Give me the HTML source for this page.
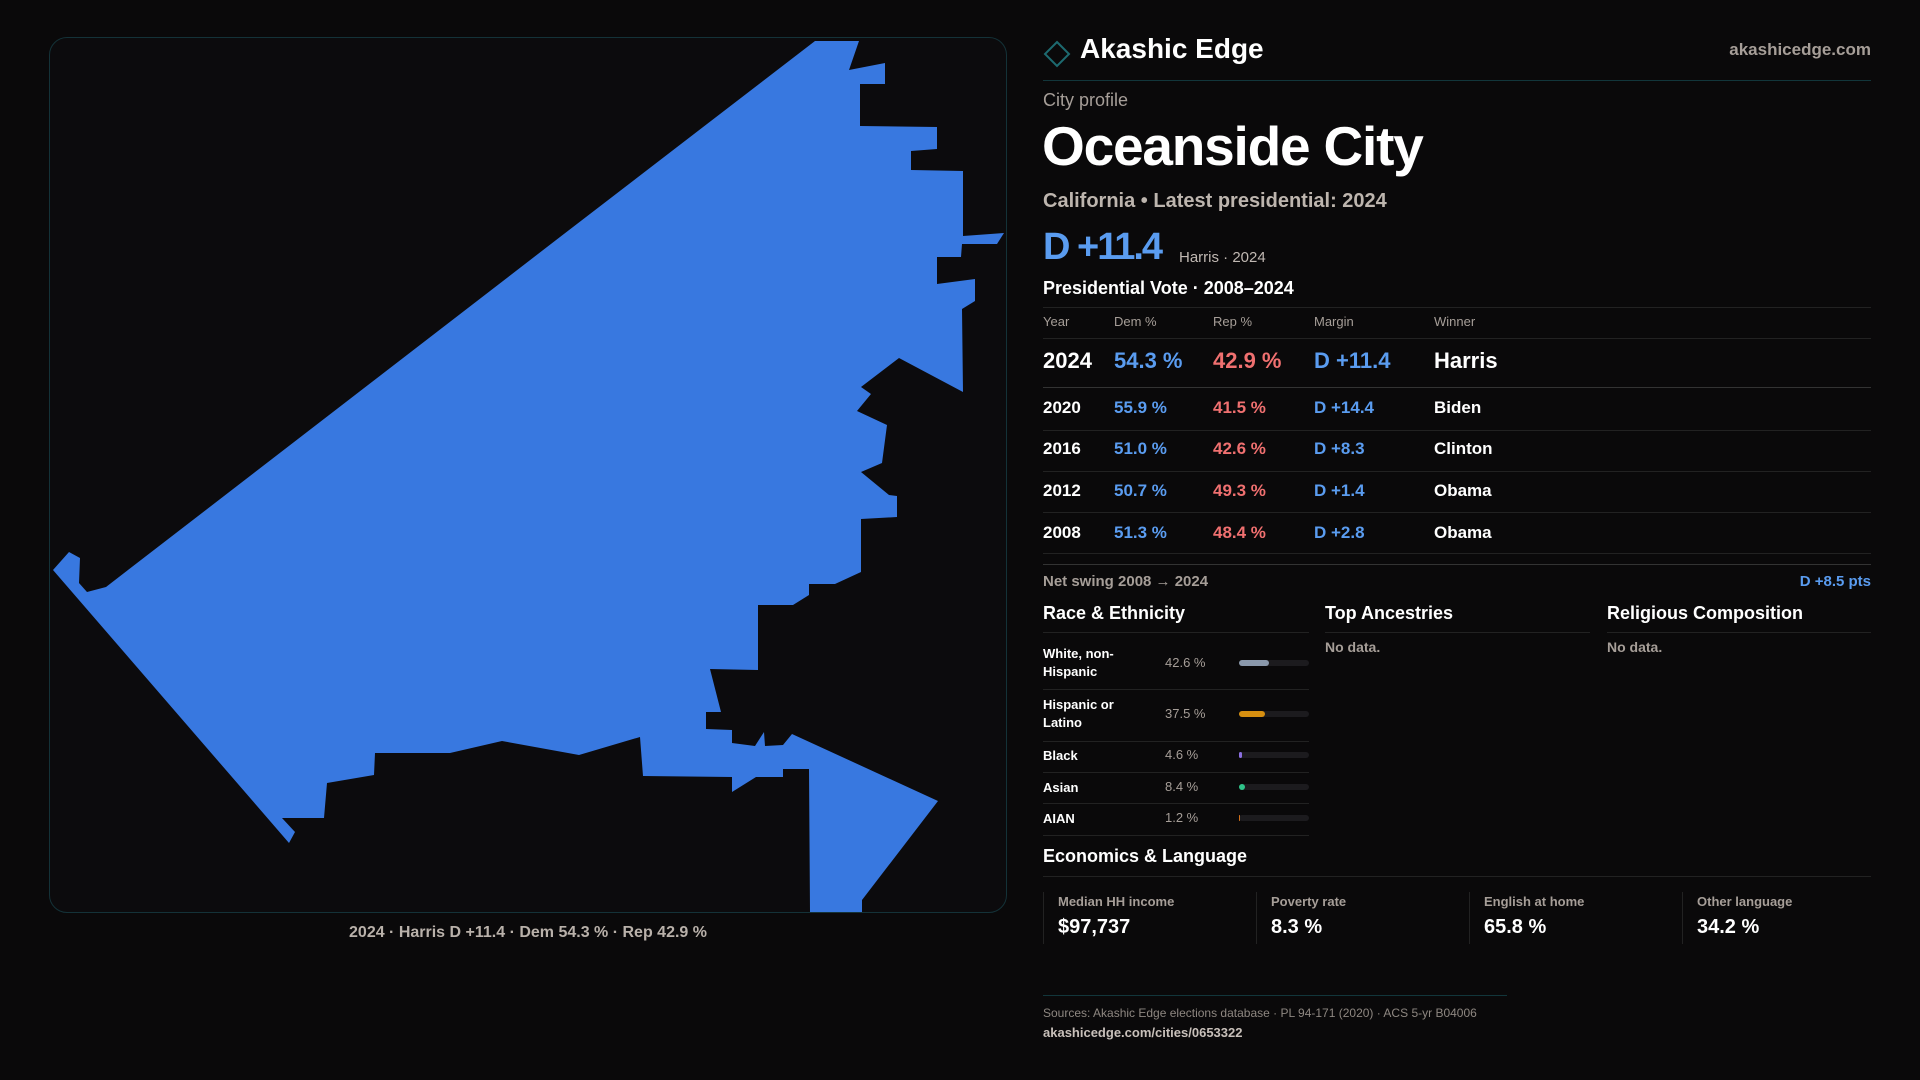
<!DOCTYPE html>
<html><head><meta charset="utf-8">
<style>
*{margin:0;padding:0;box-sizing:border-box}
body{width:1920px;height:1080px;background:#0a090a;font-family:"Liberation Sans",sans-serif;color:#fff;position:relative;overflow:hidden}
.a{position:absolute;white-space:nowrap}
.g{color:#a69e98}
.hl{position:absolute;height:1px;background:#222}
.bl{color:#5a9cf0}.rd{color:#f07070}
</style></head><body>
<div class="a" style="left:49px;top:37px;width:958px;height:876px;border:1px solid #143238;border-radius:18px;background:#0c0b0d"></div>
<svg class="a" style="left:0;top:0" width="1920" height="1080">
<polygon fill="#3878e0" points="815,41 859,41 849,70 885,63 885,84 860,84 860,126 937,127 937,149 911,151 911,170 963,171 963,236 1004,233 997,244 962,244 961,257 937,257 937,284 975,279 975,301 962,309 963,392 899,358 861,387 871,394 857,411 887,425 882,463 861,472 889,495 897,496 897,517 861,519 861,572 835,584 809,584 809,595 793,605 758,605 758,670 710,669 721,712 706,712 706,729 732,730 732,743 755,746 764,732 765,746 783,745 792,734 938,801 862,900 862,912 810,912 809,769 783,769 783,777 756,777 732,792 732,777 643,776 640,737 579,755 502,741 450,753 375,753 374,775 327,783 324,818 282,818 295,832 289,843 53,570 69,552 80,558 79,583 87,592 106,587 560,237"/>
</svg>
<div class="a" style="left:49px;width:958px;top:924px;text-align:center;font-size:16px;font-weight:bold;color:#b9b1aa">2024 · Harris D +11.4 · Dem 54.3 % · Rep 42.9 %</div>

<svg class="a" style="left:1043px;top:40px" width="28" height="28"><polygon points="14,2 26,14 14,26 2,14" fill="none" stroke="#1d6a70" stroke-width="2"/></svg>
<div class="a" style="left:1080px;top:33px;font-size:28px;font-weight:bold">Akashic Edge</div>
<div class="a g" style="right:49px;top:40px;font-size:17px;font-weight:bold">akashicedge.com</div>
<div class="hl" style="left:1043px;width:828px;top:80px;background:#12363b"></div>
<div class="a g" style="left:1043px;top:90px;font-size:18px">City profile</div>
<div class="a" style="left:1042px;top:114px;font-size:55px;font-weight:bold;letter-spacing:-1.2px">Oceanside City</div>
<div class="a" style="left:1043px;top:190px;font-size:20px;font-weight:bold;color:#bdb5ae">California • Latest presidential: 2024</div>
<div class="a bl" style="left:1043px;top:226px;font-size:38px;font-weight:bold;letter-spacing:-2px">D +11.4</div>
<div class="a" style="left:1179px;top:249px;font-size:15px;color:#c0b8b2">Harris · 2024</div>
<div class="a" style="left:1043px;top:278px;font-size:18px;font-weight:bold">Presidential Vote · 2008–2024</div>
<div class="hl" style="left:1043px;width:828px;top:307px"></div>
<div class="g" style="font-size:13px">
<div class="a" style="left:1043px;top:314px">Year</div><div class="a" style="left:1114px;top:314px">Dem %</div><div class="a" style="left:1213px;top:314px">Rep %</div><div class="a" style="left:1314px;top:314px">Margin</div><div class="a" style="left:1434px;top:314px">Winner</div></div>
<div class="hl" style="left:1043px;width:828px;top:338px"></div>
<div id="rows"></div>
<div class="hl" style="left:1043px;width:828px;top:564px;background:#333"></div>
<div class="a g" style="left:1043px;top:573px;font-size:15px;font-weight:bold">Net swing 2008 → 2024</div>
<div class="a bl" style="right:49px;top:573px;font-size:15px;font-weight:bold">D +8.5 pts</div>

<div class="a" style="left:1043px;top:603px;font-size:18px;font-weight:bold">Race &amp; Ethnicity</div>
<div class="a" style="left:1325px;top:603px;font-size:18px;font-weight:bold">Top Ancestries</div>
<div class="a" style="left:1607px;top:603px;font-size:18px;font-weight:bold">Religious Composition</div>
<div class="hl" style="left:1043px;width:266px;top:632px"></div>
<div class="hl" style="left:1325px;width:265px;top:632px"></div>
<div class="hl" style="left:1607px;width:264px;top:632px"></div>
<div class="a g" style="left:1325px;top:639px;font-size:14px;font-weight:bold">No data.</div>
<div class="a g" style="left:1607px;top:639px;font-size:14px;font-weight:bold">No data.</div>
<div id="race"></div>

<div class="a" style="left:1043px;top:846px;font-size:18px;font-weight:bold">Economics &amp; Language</div>
<div class="hl" style="left:1043px;width:828px;top:876px"></div>
<div id="stats"></div>
<div class="hl" style="left:1043px;width:464px;top:995px;background:#12363b"></div>
<div class="a" style="left:1043px;top:1006px;font-size:12px;color:#8e8781">Sources: Akashic Edge elections database · PL 94-171 (2020) · ACS 5-yr B04006</div>
<div class="a" style="left:1043px;top:1025px;font-size:13px;font-weight:bold;color:#c8c0ba">akashicedge.com/cities/0653322</div>
<script>
const years=["2024","2020","2016","2012","2008"];
const demPct=[54.3,55.9,51.0,50.7,51.3];
const repPct=[42.9,41.5,42.6,49.3,48.4];
const margins=["D +11.4","D +14.4","D +8.3","D +1.4","D +2.8"];
const winners=["Harris","Biden","Clinton","Obama","Obama"];
const raceLabels=["White, non-<br>Hispanic","Hispanic or<br>Latino","Black","Asian","AIAN"];
const raceValues=[42.6,37.5,4.6,8.4,1.2];
const raceColors=["#8a98ab","#d68f10","#8b6fe0","#2fc48a","#d2701a"];
const statLabels=["Median HH income","Poverty rate","English at home","Other language"];
const statValues=["$97,737","8.3 %","65.8 %","34.2 %"];

const rows=document.getElementById('rows');
const rowY=[361,408,449,491,533], lineY=[387,430,471,512,553];
years.forEach((y,i)=>{
  const big=i===0, fs=big?22:17, top=rowY[i]-fs*0.6;
  const r=document.createElement('div');
  
  
  r.style.cssText='font-weight:bold;font-size:'+fs+'px';
  r.innerHTML='<div class="a" style="left:1043px;top:'+top+'px">'+y+'</div>'+
   '<div class="a bl" style="left:1114px;top:'+top+'px">'+demPct[i].toFixed(1)+' %</div>'+
   '<div class="a rd" style="left:1213px;top:'+top+'px">'+repPct[i].toFixed(1)+' %</div>'+
   '<div class="a bl" style="left:1314px;top:'+top+'px">'+margins[i]+'</div>'+
   '<div class="a" style="left:1434px;top:'+top+'px">'+winners[i]+'</div>'+
   '<div class="hl" style="left:1043px;width:828px;top:'+lineY[i]+'px;background:'+(i===0?'#333':'#222')+'"></div>';
  rows.appendChild(r);
});
const race=document.getElementById('race');
const rc=[663,714,755,787,818], rl=[689,741,772,803,835];
raceValues.forEach((v,i)=>{
  const r=document.createElement('div');
  
  
  const two=raceLabels[i].indexOf('<br>')>=0;
  r.innerHTML='<div class="a" style="left:1043px;top:'+(rc[i]-(two?18:8))+'px;font-size:13px;font-weight:bold;line-height:18px">'+raceLabels[i]+'</div>'+
   '<div class="a g" style="left:1165px;top:'+(rc[i]-8)+'px;font-size:13px">'+v.toFixed(1)+' %</div>'+
   '<div class="a" style="left:1239px;top:'+(rc[i]-3)+'px;width:70px;height:6px;border-radius:3px;background:#1c1b1e"></div>'+
   '<div class="a" style="left:1239px;top:'+(rc[i]-3)+'px;width:'+Math.max(1,v/100*70)+'px;height:6px;border-radius:3px;background:'+raceColors[i]+'"></div>'+
   '<div class="hl" style="left:1043px;width:266px;top:'+rl[i]+'px"></div>';
  race.appendChild(r);
});
const stats=document.getElementById('stats');
statLabels.forEach((l,i)=>{
  const x=1043+i*213;
  const s=document.createElement('div');
  
  
  s.innerHTML='<div class="a" style="left:'+x+'px;top:892px;width:1px;height:52px;background:#222"></div>'+
   '<div class="a g" style="left:'+(x+15)+'px;top:894px;font-size:13px;font-weight:bold">'+l+'</div>'+
   '<div class="a" style="left:'+(x+15)+'px;top:916px;font-size:20px;font-weight:bold">'+statValues[i]+'</div>';
  stats.appendChild(s);
});
</script>
</body></html>
